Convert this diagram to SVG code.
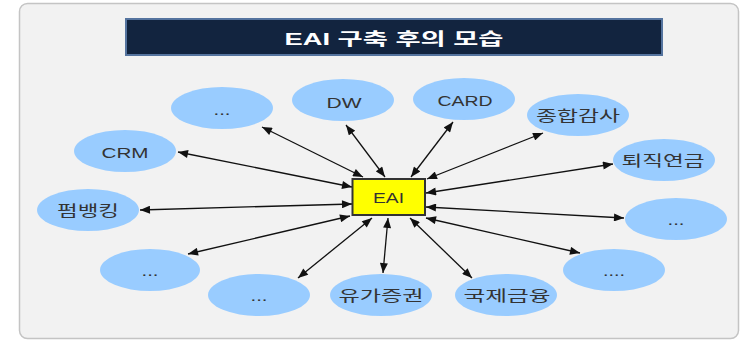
<svg xmlns="http://www.w3.org/2000/svg" width="742" height="341" viewBox="0 0 742 341">
<style>
.frame{fill:#f2f2f2;stroke:#c4c4c4;stroke-width:1.5}
.node ellipse{fill:#99ccff}
.lbl{font-family:"Liberation Sans","Noto Sans CJK KR",sans-serif;font-size:15px;fill:#333;text-anchor:middle}
.title{font-family:"Liberation Sans","Noto Sans CJK KR",sans-serif;font-size:17px;font-weight:bold;fill:#ffffff;text-anchor:middle}
.conn line{stroke:#111;stroke-width:1.3;marker-start:url(#ah);marker-end:url(#ah)}
</style>
<defs>
<marker id="ah" viewBox="0 0 10 8" refX="10" refY="4" markerUnits="userSpaceOnUse" markerWidth="11" markerHeight="8" orient="auto-start-reverse">
<path d="M0,0 L10,4 L0,8 z" fill="#111"/>
</marker>
</defs>
<rect class="frame" x="19.5" y="3.5" width="719" height="335" rx="8"/>
<g id="title">
<rect x="126" y="19" width="536" height="36" fill="#12243f" stroke="#55749f" stroke-width="2"/>
<text class="title" x="394" y="45" textLength="219" lengthAdjust="spacingAndGlyphs">EAI 구축 후의 모습</text>
</g>
<g class="conn" id="connectors">
<line x1="262" y1="127" x2="363" y2="177"/>
<line x1="346" y1="125" x2="385" y2="177"/>
<line x1="453" y1="122" x2="411" y2="177"/>
<line x1="543" y1="133" x2="427" y2="179"/>
<line x1="613" y1="164" x2="426" y2="193"/>
<line x1="624" y1="218" x2="426" y2="207"/>
<line x1="580" y1="253" x2="426" y2="218"/>
<line x1="472" y1="278" x2="410" y2="218"/>
<line x1="383" y1="273" x2="388" y2="218"/>
<line x1="298" y1="278" x2="372" y2="218"/>
<line x1="188" y1="254" x2="350" y2="216"/>
<line x1="140" y1="210" x2="352" y2="204"/>
<line x1="178" y1="152" x2="352" y2="187"/>
</g>
<g id="eai">
<rect x="352.5" y="179" width="72.5" height="36" fill="#ffff00" stroke="#333" stroke-width="2"/>
<text class="lbl" x="388.5" y="203" textLength="31" lengthAdjust="spacingAndGlyphs">EAI</text>
</g>
<g class="node" id="n-dots1"><ellipse cx="222" cy="108" rx="51" ry="21"/><text class="lbl" x="222" y="115" textLength="17" lengthAdjust="spacingAndGlyphs">...</text></g>
<g class="node" id="n-dw"><ellipse cx="343" cy="100" rx="51" ry="21"/><text class="lbl" x="344" y="108" textLength="35" lengthAdjust="spacingAndGlyphs">DW</text></g>
<g class="node" id="n-card"><ellipse cx="464" cy="99" rx="51" ry="21"/><text class="lbl" x="465" y="106" textLength="55" lengthAdjust="spacingAndGlyphs">CARD</text></g>
<g class="node" id="n-audit"><ellipse cx="578" cy="115" rx="51" ry="21"/><text class="lbl" x="578" y="121" textLength="84" lengthAdjust="spacingAndGlyphs">종합감사</text></g>
<g class="node" id="n-pension"><ellipse cx="664" cy="160" rx="51" ry="21"/><text class="lbl" x="663" y="166" textLength="83" lengthAdjust="spacingAndGlyphs">퇴직연금</text></g>
<g class="node" id="n-dots2"><ellipse cx="676" cy="219" rx="51" ry="21"/><text class="lbl" x="676" y="225" textLength="17" lengthAdjust="spacingAndGlyphs">...</text></g>
<g class="node" id="n-dots3"><ellipse cx="614" cy="270" rx="51" ry="21"/><text class="lbl" x="614" y="276" textLength="22" lengthAdjust="spacingAndGlyphs">....</text></g>
<g class="node" id="n-intl"><ellipse cx="506" cy="295" rx="51" ry="21"/><text class="lbl" x="507" y="301" textLength="87" lengthAdjust="spacingAndGlyphs">국제금융</text></g>
<g class="node" id="n-sec"><ellipse cx="381" cy="295" rx="51" ry="21"/><text class="lbl" x="381" y="301" textLength="85" lengthAdjust="spacingAndGlyphs">유가증권</text></g>
<g class="node" id="n-dots4"><ellipse cx="259" cy="295" rx="51" ry="21"/><text class="lbl" x="259" y="301" textLength="17" lengthAdjust="spacingAndGlyphs">...</text></g>
<g class="node" id="n-dots5"><ellipse cx="150" cy="270" rx="50" ry="21"/><text class="lbl" x="150" y="276" textLength="17" lengthAdjust="spacingAndGlyphs">...</text></g>
<g class="node" id="n-firm"><ellipse cx="88" cy="210" rx="51" ry="21"/><text class="lbl" x="88" y="216" textLength="62" lengthAdjust="spacingAndGlyphs">펌뱅킹</text></g>
<g class="node" id="n-crm"><ellipse cx="125" cy="151" rx="51" ry="21"/><text class="lbl" x="125" y="158" textLength="47" lengthAdjust="spacingAndGlyphs">CRM</text></g>
</svg>
